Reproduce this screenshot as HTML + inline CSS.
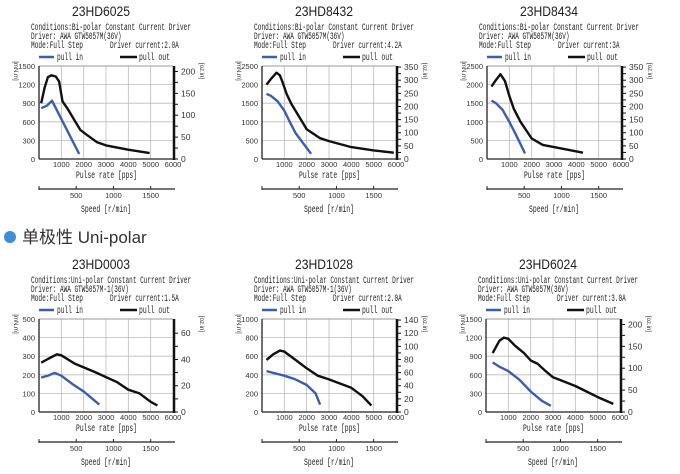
<!DOCTYPE html>
<html><head><meta charset="utf-8"><style>
html,body{margin:0;padding:0;background:#fff;width:680px;height:474px;overflow:hidden}
svg{display:block}
text{font-family:"Liberation Sans",sans-serif;fill:#333}
.m{font-family:"Liberation Mono",monospace;fill:#222}
</style></head><body>
<svg id="s" width="680" height="474" viewBox="0 0 680 474" xmlns="http://www.w3.org/2000/svg">
<circle cx="10" cy="237" r="6" fill="#3a8fd6"/>
<text x="22" y="243" style="font-family:'Liberation Sans','Noto Sans CJK SC',sans-serif;font-size:17px;fill:#333">单极性 Uni-polar</text>
</svg>
<script>
const S=document.getElementById('s');let h='';
const charts=[
{dx:0,dy:0,t:'23HD6025',c:'Conditions:Bi-polar Constant Current Driver',d:'Driver: AWA GTW5057M(36V)',cur:'Driver current:2.0A',ymax:1500,yst:300,oz:[0,50,100,150,200],
po:[[100,900],[250,1150],[400,1320],[550,1350],[750,1330],[900,1250],[1050,930],[1300,800],[1600,620],[1850,470],[2100,400],[2600,270],[3000,220],[4000,150],[4950,95]],
pi:[[100,820],[350,860],[580,940],[1800,80]]},
{dx:223,dy:0,t:'23HD8432',c:'Conditions:Bi-polar Constant Current Driver',d:'Driver: AWA GTW5057M(36V)',cur:'Driver current:4.2A',ymax:2500,yst:500,oz:[0,50,100,150,200,250,300,350],
po:[[200,2000],[400,2150],[650,2320],[800,2250],[900,2100],[1100,1750],[1300,1500],[1600,1200],[2000,800],[2600,560],[3000,480],[4000,320],[5000,230],[5900,170]],
pi:[[200,1750],[400,1700],[700,1550],[1000,1300],[1200,1050],[1500,700],[2200,140]]},
{dx:448,dy:0,t:'23HD8434',c:'Conditions:Bi-polar Constant Current Driver',d:'Driver: AWA GTW5057M(36V)',cur:'Driver current:3A',ymax:2500,yst:500,oz:[0,50,100,150,200,250,300,350],
po:[[200,1950],[400,2120],[600,2280],[800,2100],[1000,1700],[1200,1350],[1500,1000],[2000,550],[2500,380],[3000,320],[4300,170]],
pi:[[200,1570],[400,1500],[700,1320],[1000,1000],[1300,650],[1700,150]]},
{dx:0,dy:253,t:'23HD0003',c:'Conditions:Uni-polar Constant Current Driver',d:'Driver: AWA GTW5057M-1(36V)',cur:'Driver current:1.5A',ymax:500,yst:100,oz:[0,20,40,60],
po:[[100,265],[400,285],[800,310],[1000,305],[1600,260],[2500,215],[3500,160],[4000,120],[4500,100],[5000,55],[5300,35]],
pi:[[100,185],[400,195],[700,210],[1000,195],[1500,150],[2000,110],[2700,40]]},
{dx:223,dy:253,t:'23HD1028',c:'Conditions:Uni-polar Constant Current Driver',d:'Driver: AWA GTW5057M-1(36V)',cur:'Driver current:2.0A',ymax:1000,yst:200,oz:[0,20,40,60,80,100,120,140],
po:[[200,560],[500,620],[800,660],[1000,650],[1500,560],[2000,470],[2500,390],[3000,350],[4000,260],[4500,170],[4900,70]],
pi:[[200,440],[500,420],[1000,390],[1500,350],[2000,290],[2400,200],[2600,80]]},
{dx:447,dy:253,t:'23HD6024',c:'Conditions:Uni-polar Constant Current Driver',d:'Driver: AWA GTW5057M(36V)',cur:'Driver current:3.0A',ymax:1500,yst:300,oz:[0,50,100,150,200],
po:[[300,950],[600,1150],[800,1200],[1000,1180],[1300,1070],[1700,950],[2000,830],[2300,780],[2700,650],[3000,560],[3500,490],[4000,420],[4500,330],[5000,240],[5700,130]],
pi:[[300,800],[600,730],[1000,660],[1500,520],[2000,330],[2500,180],[2900,100]]}
];
const TL=(x,y,s,len,fs,extra='')=>`<text class="m" x="${x}" y="${y}" ${extra} style="font-size:${fs}px" textLength="${len}" lengthAdjust="spacingAndGlyphs">${s}</text>`;
for(const C of charts){
 const L=39+C.dx,R=173+C.dx,T=66+C.dy,B=159+C.dy,ox=C.dx,oy=C.dy;
 const X=v=>L+v/6000*(R-L),Y=v=>B-v/C.ymax*(B-T);
 h+=`<text x="${101+ox}" y="${16+oy}" text-anchor="middle" style="font-size:14px;fill:#222" textLength="58" lengthAdjust="spacingAndGlyphs">${C.t}</text>`;
 h+=TL(31+ox,30+oy,C.c,160,10);
 h+=TL(31+ox,39+oy,C.d,C.d.length*3.62,10);
 h+=TL(31+ox,48+oy,'Mode:Full Step',52,10);
 h+=TL(110+ox,48+oy,C.cur,C.cur.length*3.62,10);
 h+=`<line x1="${39+ox}" x2="${54+ox}" y1="${57+oy}" y2="${57+oy}" stroke="#3a5fb0" stroke-width="2.5"/>`;
 h+=TL(57+ox,60+oy,'pull in',26,10);
 h+=`<line x1="${120+ox}" x2="${137+ox}" y1="${57+oy}" y2="${57+oy}" stroke="#111" stroke-width="2.5"/>`;
 h+=TL(139+ox,60+oy,'pull out',31,10);
 for(let v=1000;v<6000;v+=1000)h+=`<line x1="${X(v)}" x2="${X(v)}" y1="${T}" y2="${B}" stroke="#bbb" stroke-width="0.8"/>`;
 for(let v=C.yst;v<C.ymax;v+=C.yst)h+=`<line x1="${L}" x2="${R}" y1="${Y(v)}" y2="${Y(v)}" stroke="#bbb" stroke-width="0.8"/>`;
 h+=`<line x1="${L}" x2="${R}" y1="${T}" y2="${T}" stroke="#999" stroke-width="1"/>`;
 h+=`<line x1="${L}" x2="${L}" y1="${T}" y2="${B}" stroke="#222" stroke-width="1.3"/>`;
 h+=`<line x1="${L}" x2="${R}" y1="${B}" y2="${B}" stroke="#222" stroke-width="1.3"/>`;
 h+=`<line x1="${R+1}" x2="${R+1}" y1="${T}" y2="${B+1}" stroke="#111" stroke-width="2.5"/>`;
 for(let v=0;v<=C.ymax;v+=C.yst)h+=`<text x="${L-4}" y="${Y(v)+3}" text-anchor="end" style="font-size:7.5px">${v}</text>`;
 for(let v=1000;v<=6000;v+=1000)h+=`<text x="${X(v)}" y="${B+8}" text-anchor="middle" style="font-size:7.5px">${v}</text>`;
 const step=C.oz[1]-C.oz[0];const ozmax=C.oz[C.oz.length-1];
 for(let o=0;o<=ozmax+0.001;o+=step/2){const y=B-o*7.06/C.ymax*(B-T);h+=`<line x1="${R+1}" x2="${R+5}" y1="${y}" y2="${y}" stroke="#111" stroke-width="1"/>`;}
 for(const o of C.oz){const y=B-o*7.06/C.ymax*(B-T);h+=`<text x="${R+8}" y="${y+3}" style="font-size:8.5px">${o}</text>`;}
 h+=`<text x="0" y="0" transform="translate(${14+ox},${71+oy}) rotate(90)" text-anchor="middle" style="font-size:6px">[mN.m]</text>`;
 h+=`<text x="0" y="0" transform="translate(${200+ox},${71+oy}) rotate(90)" text-anchor="middle" style="font-size:6px">[oz.in]</text>`;
 const pl=(p,c)=>`<polyline fill="none" stroke="${c}" stroke-width="2.4" stroke-linejoin="round" points="${p.map(q=>X(q[0]).toFixed(1)+','+Y(q[1]).toFixed(1)).join(' ')}"/>`;
 h+=pl(C.po,'#111')+pl(C.pi,'#3a5fb0');
 h+=TL(76+ox,178+oy,'Pulse rate [pps]',61,10);
 const sy=189+oy;
 h+=`<line x1="${L}" x2="${R+2}" y1="${sy}" y2="${sy}" stroke="#222" stroke-width="1.2"/>`;
 h+=`<line x1="${L}" x2="${L}" y1="${sy-3}" y2="${sy+1}" stroke="#222"/>`;
 for(const r of [500,1000,1500]){const x=X(r*200/60);h+=`<line x1="${x}" x2="${x}" y1="${sy-3}" y2="${sy}" stroke="#222"/><text x="${x}" y="${sy+9}" text-anchor="middle" style="font-size:7.5px">${r}</text>`;}
 h+=TL(81+ox,212+oy,'Speed [r/min]',50,10);
}
S.insertAdjacentHTML('beforeend',h);
</script>
</body></html>
